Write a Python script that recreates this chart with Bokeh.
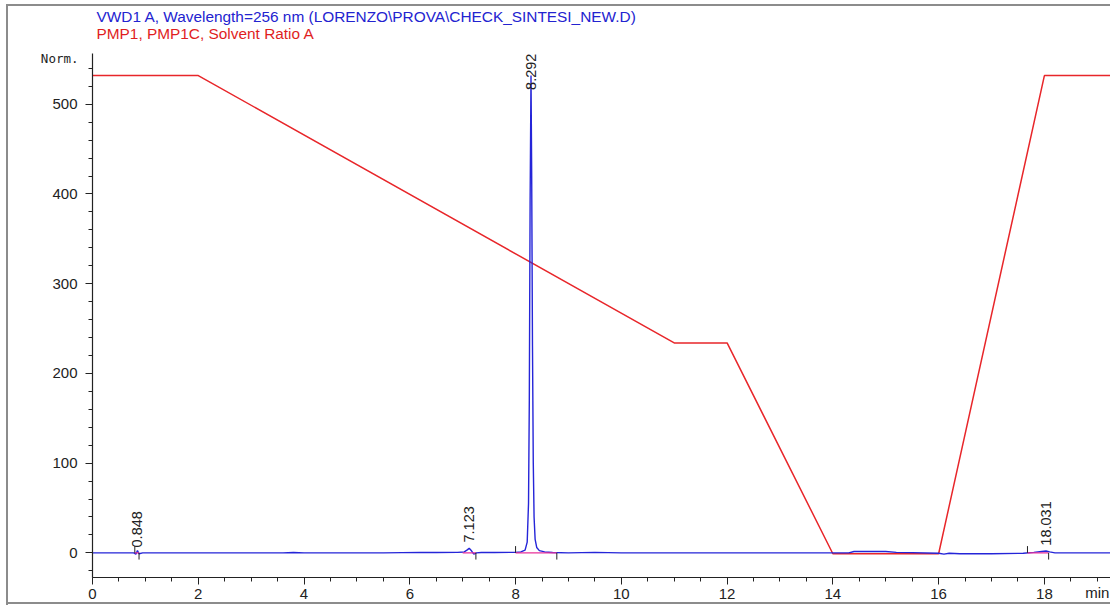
import numpy as np
from bokeh.plotting import figure
from bokeh.models import Range1d, ColumnDataSource, LinearAxis, FixedTicker, Title
from bokeh.core.properties import value
from bokeh.embed import file_html
from bokeh.resources import INLINE

# --- VWD1 A signal (256 nm), time in min, response in Norm. ---
signal_time = [0.0, 0.5, 0.78, 0.82, 0.85, 0.88, 0.95, 2.0, 3.6, 3.8, 4.0, 5.5, 6.2, 6.5,
               6.9, 7.03, 7.08, 7.123, 7.17, 7.21, 7.26, 7.35, 7.6, 7.9, 8.0, 8.1, 8.18,
               8.22, 8.245, 8.26, 8.275, 8.292, 8.305, 8.32, 8.335, 8.35, 8.37, 8.4, 8.45,
               8.55, 8.7, 9.0, 9.5, 10.0, 11.0, 12.5, 13.5, 14.3, 14.4, 15.0, 15.2, 15.5,
               16.0, 16.1, 16.2, 16.4, 17.0, 17.6, 17.8, 17.95, 18.031, 18.1, 18.2, 18.5, 19.25]
signal_norm = [0.0, 0.0, 0.0, -1.5, 2.5, -1.0, 0.0, 0.0, 0.0, 0.4, 0.0, 0.0, 0.5, 0.3,
               0.5, 1.0, 3.0, 5.0, 2.0, -1.5, 0.0, 0.3, 0.3, 0.5, 0.5, 1.0, 3.0,
               12.0, 55.0, 170.0, 390.0, 532.0, 420.0, 230.0, 100.0, 40.0, 15.0, 6.0, 2.5,
               1.0, 0.3, 0.0, 0.5, 0.0, 0.0, 0.0, 0.0, 0.0, 1.5, 1.5, 0.5, 0.2,
               -0.5, -1.5, -0.5, -1.0, -1.0, -0.5, 0.5, 1.5, 2.0, 1.0, 0.0, 0.0, 0.0]

# --- PMP1 solvent ratio A program, on the same scale ---
solvent_time = [0.0, 2.0, 11.0, 12.0, 14.0, 16.0, 18.0, 19.25]
solvent_norm = [532.0, 532.0, 234.0, 234.0, -1.0, -1.0, 532.0, 532.0]

# --- integrated peaks ---
peak_rt = [0.848, 7.123, 8.292, 18.031]
peak_labels = ["0.848", "7.123", "8.292", "18.031"]
peak_label_y = [6.0, 11.5, 516.0, 8.0]

# integration start / end markers (time, direction +1 up / -1 down)
mark_time = [0.80, 0.88, 7.25, 8.0, 8.78, 17.68, 18.08]
mark_dir = [1, -1, -1, 1, -1, 1, -1]
# integration baselines
base_start = [0.80, 7.0, 8.0, 17.68]
base_end = [0.88, 7.25, 8.78, 18.08]

# --- axis ticks ---
x_major = [0, 2, 4, 6, 8, 10, 12, 14, 16, 18]
x_minor = [i * 0.5 for i in range(0, 39)]
y_major = [0, 100, 200, 300, 400, 500]
y_minor = [i * 20 for i in range(-1, 28)]
x_unit_pos, x_unit = 19.0, "min"
y_unit_pos, y_unit = 551, "Norm."

TEXT_DARK = "#222222"

p = figure(width=1110, height=607, output_backend="svg", toolbar_location=None,
           x_range=Range1d(0, 19.25), y_range=Range1d(-27.5, 556.6),
           min_border_left=92, min_border_right=0, min_border_top=53,
           min_border_bottom=30, x_axis_type=None, y_axis_type=None)
p.outline_line_color = None
p.grid.visible = False
p.background_fill_color = "white"
p.border_fill_color = None
# thin grey page frame around the report panel
grey = "linear-gradient(#8c8c8c, #8c8c8c)"
p.styles = {
    "background": (f"{grey} 6px 4px / 1104px 2px no-repeat, "
                   f"{grey} 6px 4px / 2px 601px no-repeat, "
                   f"{grey} 6px 602px / 1104px 2px no-repeat, white"),
}

xaxis = LinearAxis(ticker=FixedTicker(ticks=x_major, minor_ticks=x_minor))
yaxis = LinearAxis(ticker=FixedTicker(ticks=y_major, minor_ticks=y_minor))
for ax in (xaxis, yaxis):
    ax.axis_line_color = TEXT_DARK
    ax.axis_line_width = 1.2
    ax.major_tick_line_color = TEXT_DARK
    ax.minor_tick_line_color = TEXT_DARK
    ax.major_tick_in = 0
    ax.major_tick_out = 7
    ax.minor_tick_in = 0
    ax.minor_tick_out = 4
    ax.major_label_text_font = "Liberation Sans"
    ax.major_label_text_font_size = "15px"
    ax.major_label_text_color = TEXT_DARK
xaxis.major_label_standoff = 4
yaxis.major_label_standoff = 8
p.add_layout(xaxis, "below")
p.add_layout(yaxis, "left")

# unit captions at the ends of the axes
def unit_axis(pos, text, side, standoff, font, size):
    ax = LinearAxis(ticker=FixedTicker(ticks=[pos], minor_ticks=[]),
                    major_label_overrides={pos: text})
    ax.axis_line_color = None
    ax.major_tick_line_color = None
    ax.minor_tick_line_color = None
    ax.major_tick_out = 0
    ax.major_tick_in = 0
    ax.major_label_standoff = standoff
    ax.major_label_text_font = font
    ax.major_label_text_font_size = size
    ax.major_label_text_color = TEXT_DARK
    p.add_layout(ax, side)

unit_axis(y_unit_pos, y_unit, "left", -29, "DejaVu Sans Mono", "12.5px")
unit_axis(x_unit_pos, x_unit, "below", -18, "Liberation Sans", "15px")

# header lines: the default title sits outermost, the pump line next to the frame
p.title.text = "VWD1 A, Wavelength=256 nm (LORENZO\\PROVA\\CHECK_SINTESI_NEW.D)"
p.title.align = "left"
p.title.offset = 4
p.title.text_color = "#2323d0"
p.title.text_font = "Liberation Sans"
p.title.text_font_size = "15.4px"
p.title.text_font_style = "normal"
p.title.standoff = -28
p.add_layout(Title(text="PMP1, PMP1C, Solvent Ratio A",
                   align="left", offset=4, text_color="#e01e1e",
                   text_font="Liberation Sans", text_font_size="15.4px",
                   text_font_style="normal", standoff=24), "above")

src = ColumnDataSource(dict(t=signal_time, v=signal_norm))
p.line(solvent_time, solvent_norm, line_color="#e8262a", line_width=1.5)
p.line("t", "v", source=src, line_color="#2525d8", line_width=1.4)

# integration baselines and markers
p.segment(x0=base_start, y0=[0] * len(base_start), x1=base_end, y1=[0] * len(base_end),
          line_color="#e8309a", line_width=1.3)
mark_len = 7.5
p.segment(x0=mark_time, y0=[0] * len(mark_time), x1=mark_time,
          y1=[d * mark_len for d in mark_dir], line_color=TEXT_DARK, line_width=1)

# retention time labels
p.text(x=peak_rt, y=peak_label_y, text=peak_labels, angle=np.pi / 2,
       text_align="left", text_baseline="middle", text_font=value("Liberation Sans"),
       text_font_size="14.5px", text_color=TEXT_DARK)

open("out.html", "w").write(file_html(p, INLINE))
